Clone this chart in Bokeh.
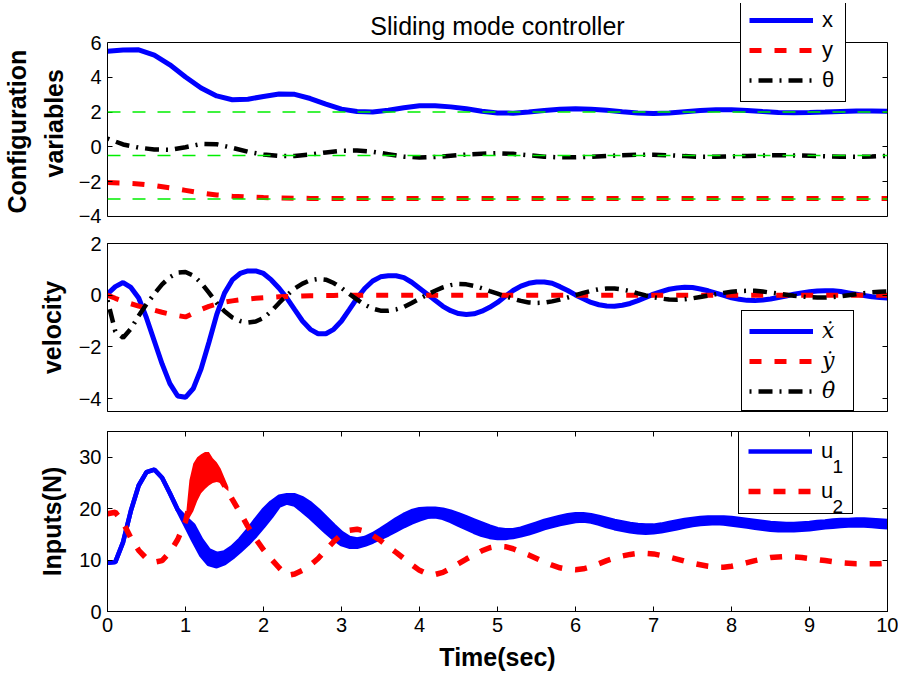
import numpy as np
from bokeh.plotting import figure
from bokeh.models import (Range1d, FixedTicker, LinearAxis, Legend, LegendItem, Span,
                          Label, Title)
from bokeh.layouts import column
from bokeh.core.properties import value
from bokeh.embed import file_html
from bokeh.resources import INLINE

# ---------------------------------------------------------------------------
# Sampled simulation output of the sliding mode controller
# ---------------------------------------------------------------------------
t_cfg = np.round(np.arange(0, 10.0001, 0.2), 1)   # configuration samples (s)
t_fast = np.round(np.arange(0, 10.0001, 0.1), 1)  # velocity / input samples (s)

x_pos = [5.50, 5.57, 5.58, 5.28, 4.72, 4.02, 3.38, 2.93, 2.71, 2.74, 2.90, 3.04,
         3.02, 2.78, 2.46, 2.17, 2.03, 2.00, 2.11, 2.25, 2.36, 2.37, 2.30, 2.19,
         2.05, 1.95, 1.94, 2.00, 2.09, 2.16, 2.19, 2.17, 2.10, 2.02, 1.95, 1.92,
         1.95, 2.02, 2.09, 2.13, 2.13, 2.09, 2.03, 1.98, 1.96, 1.97, 2.00, 2.04,
         2.07, 2.07, 2.05]
y_pos = [-2.05, -2.08, -2.13, -2.22, -2.35, -2.50, -2.65, -2.76, -2.83, -2.88,
         -2.91, -2.93, -2.95, -2.96] + [-2.97] * 37
theta = [0.48, 0.14, -0.04, -0.15, -0.17, -0.02, 0.17, 0.15, -0.05, -0.28, -0.44,
         -0.52, -0.52, -0.44, -0.32, -0.22, -0.21, -0.28, -0.42, -0.56, -0.61,
         -0.58, -0.51, -0.44, -0.39, -0.36, -0.40, -0.48, -0.56, -0.60, -0.60,
         -0.57, -0.52, -0.48, -0.45, -0.45, -0.48, -0.53, -0.57, -0.57, -0.55,
         -0.52, -0.49, -0.48, -0.49, -0.51, -0.54, -0.56, -0.57, -0.55, -0.51]

# desired final configuration
x_ref, y_ref, theta_ref = 2.0, -3.0, -0.5

x_dot = [0.05, 0.33, 0.49, 0.30, -0.11, -0.88, -1.77, -2.66, -3.42, -3.90,
         -3.95, -3.61, -2.85, -1.83, -0.75, 0.08, 0.59, 0.84, 0.94, 0.94,
         0.84, 0.59, 0.27, -0.11, -0.56, -1.00, -1.32, -1.49, -1.49, -1.32,
         -1.00, -0.56, -0.11, 0.27, 0.55, 0.71, 0.75, 0.75, 0.68, 0.50,
         0.27, 0.04, -0.20, -0.43, -0.60, -0.71, -0.75, -0.72, -0.62, -0.47,
         -0.28, -0.04, 0.18, 0.35, 0.46, 0.51, 0.51, 0.46, 0.33, 0.18,
         0.01, -0.14, -0.28, -0.37, -0.42, -0.43, -0.39, -0.32, -0.21, -0.09,
         0.04, 0.14, 0.23, 0.28, 0.31, 0.30, 0.24, 0.17, 0.08, -0.01,
         -0.10, -0.16, -0.20, -0.21, -0.19, -0.15, -0.09, -0.03, 0.04, 0.09,
         0.13, 0.16, 0.17, 0.17, 0.14, 0.09, 0.04, -0.01, -0.06, -0.09, -0.11]
y_dot = [0.00, -0.12, -0.23, -0.33, -0.42, -0.50, -0.58, -0.66, -0.73, -0.79,
         -0.84, -0.70, -0.55, -0.43, -0.34, -0.27, -0.22, -0.18, -0.15, -0.12,
         -0.10, -0.08, -0.06, -0.05, -0.04, -0.03, -0.02, -0.02, -0.01, -0.01] + [0.0] * 71
theta_dot = [-0.20, -1.40, -1.65, -1.30, -0.80, -0.35, 0.05, 0.42, 0.70, 0.87,
             0.90, 0.76, 0.48, 0.10, -0.30, -0.62, -0.86, -1.00, -1.06, -1.02,
             -0.88, -0.62, -0.30, 0.00, 0.26, 0.45, 0.58, 0.63, 0.60, 0.47,
             0.28, 0.05, -0.17, -0.37, -0.52, -0.60, -0.60, -0.55, -0.45, -0.30,
             -0.14, 0.02, 0.17, 0.30, 0.39, 0.43, 0.42, 0.36, 0.27, 0.16,
             0.06, -0.04, -0.14, -0.22, -0.28, -0.30, -0.29, -0.24, -0.17, -0.09,
             0.00, 0.09, 0.17, 0.23, 0.26, 0.26, 0.22, 0.16, 0.07, -0.01,
             -0.08, -0.13, -0.17, -0.18, -0.16, -0.12, -0.07, -0.02, 0.04, 0.09,
             0.13, 0.16, 0.17, 0.17, 0.14, 0.10, 0.06, 0.02, -0.02, -0.05,
             -0.08, -0.09, -0.09, -0.07, -0.04, 0.00, 0.04, 0.08, 0.11, 0.13, 0.14]

# u1 chatters after t = 1 s: upper and lower envelope of the switching band
u1_upper = [9.5, 9.6, 13.5, 19.6, 24.5, 27.1, 27.6, 26.0, 23.0, 19.8,
            18.2, 16.8, 14.0, 11.9, 11.2, 11.5, 12.5, 14.0, 15.8, 17.8,
            19.7, 21.2, 22.3, 22.6, 22.6, 22.0, 21.0, 19.7, 18.2, 16.7,
            15.3, 14.3, 14.0, 14.3, 15.0, 15.9, 16.9, 17.9, 18.8, 19.5,
            19.9, 20.0, 20.0, 19.8, 19.4, 18.9, 18.3, 17.7, 17.1, 16.5,
            16.0, 15.8, 15.8, 16.1, 16.6, 17.1, 17.6, 18.0, 18.4, 18.7,
            18.9, 18.9, 18.7, 18.4, 18.0, 17.6, 17.3, 17.0, 16.8, 16.7,
            16.7, 16.9, 17.2, 17.5, 17.8, 18.0, 18.2, 18.3, 18.3, 18.3,
            18.2, 18.0, 17.8, 17.6, 17.4, 17.2, 17.1, 17.0, 17.0, 17.1,
            17.2, 17.4, 17.5, 17.7, 17.8, 17.8, 17.9, 17.9, 17.8, 17.7, 17.6]
u1_lower = [9.5, 9.6, 13.5, 19.6, 24.5, 27.1, 27.6, 26.0, 23.0, 19.8,
            16.8, 13.8, 11.0, 9.2, 8.8, 9.4, 10.5, 11.8, 13.2, 14.8,
            16.6, 18.5, 20.6, 21.2, 20.8, 19.6, 18.3, 16.9, 15.5, 14.2,
            13.1, 12.6, 12.6, 13.0, 13.6, 14.3, 15.0, 15.8, 16.6, 17.3,
            17.9, 18.4, 18.5, 18.2, 17.6, 16.9, 16.2, 15.5, 14.9, 14.5,
            14.3, 14.3, 14.5, 14.8, 15.2, 15.7, 16.2, 16.6, 17.0, 17.3,
            17.6, 17.7, 17.5, 17.1, 16.6, 16.2, 15.9, 15.6, 15.4, 15.3,
            15.4, 15.6, 15.9, 16.2, 16.5, 16.8, 17.0, 17.1, 17.2, 17.1,
            16.9, 16.7, 16.5, 16.3, 16.1, 15.9, 15.8, 15.8, 15.8, 15.9,
            16.0, 16.2, 16.4, 16.5, 16.6, 16.7, 16.7, 16.7, 16.6, 16.5, 16.4]
u2 = [19.0, 19.3, 17.3, 14.3, 11.9, 10.3, 9.6, 9.9, 11.5, 14.0,
      17.5, 24.0, 27.0, 27.8, 27.0, 24.5, 21.8, 19.2, 16.5, 14.1,
      12.0, 10.2, 8.5, 7.0, 7.3, 8.0, 9.0, 10.3, 12.0, 13.6,
      15.0, 15.8, 16.0, 15.6, 14.8, 13.8, 12.6, 11.5, 10.3, 9.1,
      8.0, 7.3, 7.2, 7.6, 8.4, 9.3, 10.2, 11.0, 11.8, 12.4,
      12.7, 12.6, 12.2, 11.6, 11.0, 10.3, 9.6, 9.0, 8.5, 8.2,
      8.1, 8.3, 8.7, 9.3, 9.9, 10.4, 10.8, 11.1, 11.3, 11.3,
      11.2, 10.9, 10.6, 10.2, 9.8, 9.4, 9.1, 8.8, 8.6, 8.6,
      8.8, 9.1, 9.5, 9.9, 10.2, 10.5, 10.6, 10.7, 10.6, 10.5,
      10.3, 10.1, 9.9, 9.7, 9.5, 9.4, 9.3, 9.3, 9.3, 9.3, 9.4]
# strong switching burst of u2 just after t = 1 s
t_burst = [1.00, 1.05, 1.10, 1.15, 1.20, 1.25, 1.30, 1.35, 1.40, 1.45, 1.50, 1.55]
u2_burst_upper = [17.8, 25.5, 28.8, 30.0, 30.6, 31.0, 31.0, 29.8, 29.0, 27.8, 26.0, 24.2]
u2_burst_lower = [17.0, 18.2, 19.5, 21.5, 23.0, 23.8, 24.5, 25.0, 25.2, 25.0, 24.0, 23.4]

cfg_limits = (-4, 6)
cfg_ticks = [-4, -2, 0, 2, 4, 6]
vel_ticks = [-4, -2, 0, 2]
in_ticks = [0, 10, 20, 30]
time_ticks = list(range(0, 11))

# ---------------------------------------------------------------------------
BLUE, RED, GREEN = "#0000ff", "#ff0000", "#00ee00"
FONT = "Liberation Sans"
DASH = "12 13"
DASHDOT = "2 7 14 7"


def ticks_only(ax, ticks):
    """Axis that shows tick marks but no numbers (mirrored box ticks)."""
    ax.major_label_overrides = {t: "" for t in ticks}
    ax.major_label_text_color = None
    ax.major_label_text_font_size = "1px"
    ax.major_label_standoff = 0


def panel(height, left, right, top, bottom, yr, yticks, with_time):
    p = figure(width=898, height=height, x_range=Range1d(0, 10), y_range=Range1d(*yr),
               x_axis_location="below" if with_time else None, title=None,
               output_backend="svg", toolbar_location=None,
               min_border_left=left, min_border_right=right,
               min_border_top=top, min_border_bottom=bottom)
    p.grid.visible = False
    p.outline_line_color = "black"
    p.outline_line_alpha = 1.0
    p.outline_line_width = 1
    yt = FixedTicker(ticks=yticks)
    p.left[0].ticker = yt
    right_axis = LinearAxis(ticker=yt)
    p.add_layout(right_axis, "right")
    top_axis = None
    if with_time:
        xt = FixedTicker(ticks=time_ticks)
        p.below[0].ticker = xt
        top_axis = LinearAxis(ticker=xt)
        p.add_layout(top_axis, "above")
    for ax in p.axis:
        ax.major_tick_in = 5
        ax.major_tick_out = 0
        ax.minor_tick_line_color = None
        ax.axis_line_color = "black"
        ax.major_tick_line_color = "black"
        ax.major_label_text_font = FONT
        ax.major_label_text_font_size = "20px"
        ax.major_label_text_color = "black"
        ax.major_label_standoff = 6
        ax.axis_label_text_font = FONT
        ax.axis_label_text_font_size = "25px"
        ax.axis_label_text_font_style = "bold"
        ax.axis_label_text_color = "black"
        ax.axis_label_standoff = 10
    ticks_only(right_axis, yticks)
    if top_axis is not None:
        ticks_only(top_axis, time_ticks)
    return p


def legend_box(p, items, loc, padding, spacing, label_width, font=FONT, style="normal",
               fill_alpha=1.0):
    leg = Legend(items=items, location=loc, padding=padding, spacing=spacing,
                 glyph_width=64, glyph_height=20, label_standoff=9,
                 label_width=label_width, margin=0,
                 border_line_color="black", border_line_width=1, border_line_alpha=1,
                 background_fill_color="white", background_fill_alpha=fill_alpha,
                 label_text_font=font, label_text_font_size="22px",
                 label_text_font_style=style, label_text_color="black")
    p.add_layout(leg)
    return leg


# --- configuration variables ---------------------------------------------
# The plotting area reaches up to the top of the page so that the legend and
# the title can sit above the axes box; the box itself spans cfg_limits.
p1 = panel(228, 105, 6, 3, 11, (-4.0575, 8.2414), cfg_ticks, False)
p1.outline_line_color = None
p1.left[0].bounds = cfg_limits
p1.right[0].bounds = cfg_limits
for edge in cfg_limits:
    p1.add_layout(Span(location=edge, dimension="width", line_color="black", line_width=1))
# two-line y label; each line starts a fixed distance above the bottom of the box
for line_text, lift, gap in (("variables", 40, 15), ("Configuration", 4, 0)):
    p1.add_layout(Title(text=line_text, align="left", offset=lift, standoff=gap,
                        text_font=FONT, text_font_size="25px", text_font_style="bold",
                        text_color="black"), "left")
p1.add_layout(Label(x=5, y=6.977, text="Sliding mode controller", text_align="center",
                    text_baseline="alphabetic", text_font=FONT, text_font_size="25px",
                    text_color="black"))

r_x = p1.line(t_cfg, x_pos, line_color=BLUE, line_width=5)
r_y = p1.line(t_cfg, y_pos, line_color=RED, line_width=5, line_dash=DASH)
r_th = p1.line(t_cfg, theta, line_color="black", line_width=4.5, line_dash=DASHDOT)
for ref in (x_ref, theta_ref, y_ref):
    p1.add_layout(Span(location=ref, dimension="width", line_color=GREEN,
                       line_width=1.5, line_dash="13 12"))
legend_box(p1, [LegendItem(label=value("x"), renderers=[r_x]),
                LegendItem(label=value("y"), renderers=[r_y]),
                LegendItem(label=value("θ"), renderers=[r_th])],
           (633, 115), 8, 4, 15)

# --- velocities -------------------------------------------------------------
p2 = panel(192, 103, 8, 15, 9, (-4.5, 2), vel_ticks, False)
p2.left[0].axis_label = "velocity"
r_xd = p2.line(t_fast, x_dot, line_color=BLUE, line_width=5)
r_yd = p2.line(t_fast, y_dot, line_color=RED, line_width=5, line_dash=DASH)
r_thd = p2.line(t_fast, theta_dot, line_color="black", line_width=4.5, line_dash=DASHDOT)
legend_box(p2, [LegendItem(label=value("\u1e8b"), renderers=[r_xd]),
                LegendItem(label=value("\u1e8f"), renderers=[r_yd]),
                LegendItem(label=value("\u03b8\u0307"), renderers=[r_thd])],
           (634, 0), 7, 5, 24, font="DejaVu Serif", style="italic")

# --- control inputs -----------------------------------------------------------
p3 = panel(257, 106, 11, 11, 66, (0, 35), in_ticks, True)
p3.left[0].axis_label = "Inputs(N)"
p3.below[0].axis_label = "Time(sec)"
p3.below[0].axis_label_standoff = 8
p3.varea(x=t_fast, y1=u1_lower, y2=u1_upper, fill_color=BLUE)
r_u1 = p3.line(t_fast, u1_upper, line_color=BLUE, line_width=4.5)
p3.line(t_fast, u1_lower, line_color=BLUE, line_width=4.5)
p3.varea(x=t_burst, y1=u2_burst_lower, y2=u2_burst_upper, fill_color=RED)
r_u2 = p3.line(t_fast, u2, line_color=RED, line_width=5.5, line_dash=DASH)
legend_box(p3, [LegendItem(label=value("u"), renderers=[r_u1]),
                LegendItem(label=value("u"), renderers=[r_u2])],
           (631, 97), 9, 14, 22, fill_alpha=0.0)
# input indices written as subscripts after the legend's "u"
for idx, y_sub in (("1", 28.1), ("2", 20.5)):
    p3.add_layout(Label(x=9.296, y=y_sub, text=idx, text_align="left",
                        text_baseline="alphabetic", text_font=FONT,
                        text_font_size="19px", text_color="black"))

layout = column(p1, p2, p3, spacing=0)
open("out.html", "w").write(file_html(layout, INLINE))
